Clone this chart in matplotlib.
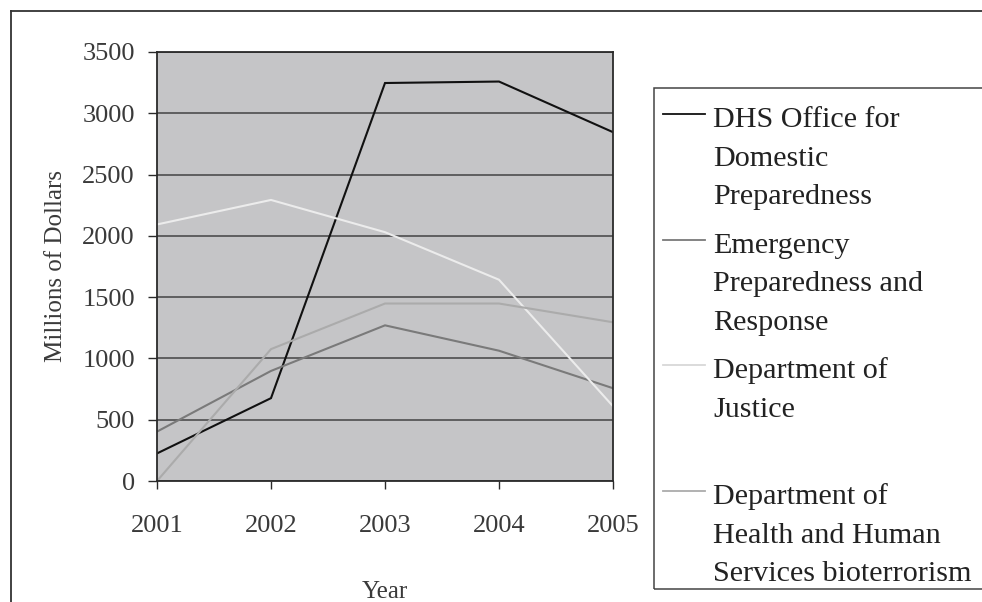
import matplotlib
matplotlib.use("Agg")
import matplotlib.pyplot as plt
from matplotlib.lines import Line2D
from matplotlib.patches import Rectangle

# Data (millions of dollars)
years = [2001, 2002, 2003, 2004, 2005]
dhs_odp = [225, 676, 3247, 3259, 2846]
emergency_prep = [403, 898, 1270, 1063, 757]
justice = [2093, 2293, 2030, 1642, 610]
hhs_bioterror = [0, 1076, 1448, 1448, 1295]

series_names = [
    "DHS Office for\nDomestic\nPreparedness",
    "Emergency\nPreparedness and\nResponse",
    "Department of\nJustice\n",
    "Department of\nHealth and Human\nServices bioterrorism",
]
series_values = [dhs_odp, emergency_prep, justice, hhs_bioterror]
series_colors = ["#111111", "#7a7a7a", "#ececec", "#ababab"]

plt.rcParams["font.family"] = ["Liberation Serif", "DejaVu Serif"]

W, H = 982, 602
fig = plt.figure(figsize=(W / 100, H / 100), dpi=100)


def fx(px):
    return px / W


def fy(py):
    return 1 - py / H


# plot area in pixels: x 157..613, y 52..481
ax = fig.add_axes([fx(157), fy(481), fx(613) - fx(157), fy(52) - fy(481)])
ax.set_facecolor("#c5c5c7")

for vals, col in zip(series_values, series_colors):
    ax.plot(years, vals, color=col, lw=1.5, solid_joinstyle="miter")

ax.set_xlim(2001, 2005)
ax.set_ylim(0, 3500)
ax.set_xticks(years)
ax.set_yticks(range(0, 3501, 500))
ax.yaxis.grid(True, color="#4e4e4e", lw=1.2)
ax.set_axisbelow(True)

for sp in ax.spines.values():
    sp.set_color("#2a2a2a")
    sp.set_linewidth(1.3)

ax.tick_params(axis="y", direction="out", length=6.5, width=1, pad=9.4,
               labelsize=19, colors="#2a2a2a", labelcolor="#3a3a3a")
ax.tick_params(axis="x", direction="out", length=5.8, width=1, pad=18.5,
               labelsize=19, colors="#2a2a2a", labelcolor="#3a3a3a")

ax.set_ylabel("Millions of Dollars", fontsize=18, color="#3a3a3a")
ax.yaxis.set_label_coords(-0.197, 0.5)
ax.set_xlabel("Year", fontsize=18, color="#3a3a3a")
ax.xaxis.set_label_coords(0.5, -0.232)

# outer frame (cut off at right and bottom)
fig.add_artist(Line2D([fx(11), fx(W + 5)], [fy(11), fy(11)], color="#333333", lw=1.3))
fig.add_artist(Line2D([fx(11), fx(11)], [fy(11), fy(H + 5)], color="#333333", lw=1.3))

# legend box, open on the right
fig.add_artist(Rectangle((fx(654), fy(589)), fx(W + 20) - fx(654), fy(88) - fy(589),
                         transform=fig.transFigure, fill=False, edgecolor="#444444", lw=1.1))

entry_step = 125.7
line_step = 38.5
for i, (name, col) in enumerate(zip(series_names, series_colors)):
    y_mark = 114 + entry_step * i
    mark_col = col if col != "#ececec" else "#d8d8d8"
    fig.add_artist(Line2D([fx(663), fx(705)], [fy(y_mark), fy(y_mark)], color=mark_col, lw=1.3))
    for k, line in enumerate(name.split("\n")):
        if line:
            fig.text(fx(713), fy(y_mark + 13 + line_step * k), line, fontsize=21.7,
                     color="#222222", va="baseline", ha="left")

fig.savefig("out.png", dpi=100)
